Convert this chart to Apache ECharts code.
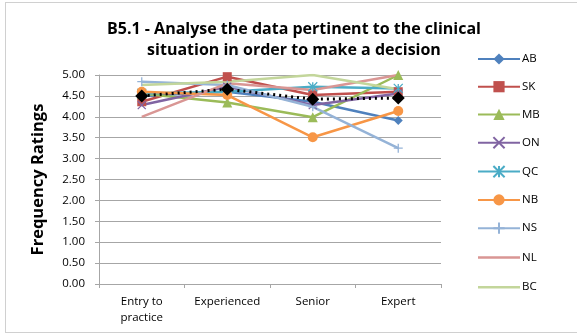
<!DOCTYPE html>
<html><head><meta charset="utf-8">
<script src="https://cdn.jsdelivr.net/npm/echarts@6/dist/echarts.min.js"></script>
<style>
html,body{margin:0;padding:0;background:#fff;}
#c{width:577px;height:334px;position:absolute;left:0;top:0;}
#b{position:absolute;left:5px;top:2px;width:580px;height:329px;border:1px solid #d0d0d0;pointer-events:none;}
</style></head>
<body><div id="c"></div><div id="b"></div>
<script>
var categories = ['Entry to\npractice', 'Experienced', 'Senior', 'Expert'];
var yTicks = [0, 0.5, 1, 1.5, 2, 2.5, 3, 3.5, 4, 4.5, 5];
var AB = [4.50, 4.60, 4.36, 3.91];
var SK = [4.36, 4.96, 4.52, 4.60];
var MB = [4.56, 4.34, 3.99, 5.00];
var ON = [4.28, 4.72, 4.28, 4.56];
var QC = [4.56, 4.60, 4.72, 4.68];
var NB = [4.60, 4.52, 3.51, 4.14];
var NS = [4.84, 4.76, 4.24, 3.25];
var NL = [4.00, 4.80, 4.64, 5.00];
var BC = [4.76, 4.84, 5.00, 4.66];
var AVG = [4.50, 4.66, 4.42, 4.45];

var defs = [
  {name:'AB', data:AB, color:'#4F81BD', symbol:'diamond', size:9},
  {name:'SK', data:SK, color:'#C0504D', symbol:'rect', size:9},
  {name:'MB', data:MB, color:'#9BBB59', symbol:'triangle', size:10},
  {name:'ON', data:ON, color:'#8064A2', symbol:'path://M0,0L10,10M10,0L0,10', size:8, stroke:true},
  {name:'QC', data:QC, color:'#4BACC6', symbol:'path://M0,0L10,10M10,0L0,10M5,0L5,10', size:9, stroke:true},
  {name:'NB', data:NB, color:'#F79646', symbol:'circle', size:10},
  {name:'NS', data:NS, color:'#95B3D7', symbol:'path://M5,0L5,10M0,5L10,5', size:9, stroke:true},
  {name:'NL', data:NL, color:'#D99694', symbol:'none', size:0},
  {name:'BC', data:BC, color:'#C3D69B', symbol:'none', size:0}
];
var series = defs.map(function(d){
  return {
    name:d.name, type:'line', data:d.data,
    symbol:d.symbol, symbolSize:d.size,
    lineStyle:{color:d.color, width:2.5},
    itemStyle: d.stroke ? {color:d.color, borderColor:d.color, borderWidth:1.3} : {color:d.color},
    emphasis:{disabled:true}, animation:false
  };
});
series.push({
  name:'Average', type:'line', data:AVG, symbol:'diamond', symbolSize:13,
  lineStyle:{color:'#000', width:3, type:[2,4]},
  itemStyle:{color:'#000'}, z:5, animation:false
});

var barIcon = 'path://M0,0L0.01,0L0,0.01ZM0,5.75L42,5.75L42,8.25L0,8.25ZM42,14L41.99,14L42,13.99Z';
var legendData = defs.map(function(d){
  return d.symbol === 'none' ? {name:d.name, icon:barIcon} : {name:d.name};
});

var chart = echarts.init(document.getElementById('c'));
chart.setOption({
  backgroundColor:'#fff',
  animation:false,
  title:{
    text:'B5.1 - Analyse the data pertinent to the clinical\nsituation in order to make a decision',
    left:289, top:14, textAlign:'center',
    textStyle:{fontFamily:'Open Sans', fontWeight:'bold', fontSize:16, color:'#000', lineHeight:21}
  },
  legend:{
    data:legendData,
    orient:'vertical', left:472, top:48,
    itemWidth:42, itemHeight:14, itemGap:15.7,
    textStyle:{fontFamily:'Open Sans', fontSize:11.5, color:'#000', padding:[0,0,0,-3]}
  },
  grid:{left:99, right:136, top:75, bottom:50},
  xAxis:{
    type:'category', data:categories, boundaryGap:true,
    axisLine:{lineStyle:{color:'#a6a6a6'}},
    axisTick:{show:true, length:4, lineStyle:{color:'#a6a6a6'}},
    axisLabel:{fontFamily:'Open Sans', fontSize:11.5, color:'#000', margin:10, lineHeight:16, interval:0}
  },
  yAxis:{
    type:'value', min:0, max:5, interval:0.5,
    name:'Frequency Ratings', nameLocation:'middle', nameGap:52, nameRotate:90,
    nameTextStyle:{fontFamily:'Open Sans', fontWeight:'bold', fontSize:16.5, color:'#000'},
    axisLine:{show:true, lineStyle:{color:'#a6a6a6'}},
    axisTick:{show:true, length:4, lineStyle:{color:'#a6a6a6'}},
    splitLine:{lineStyle:{color:'#a6a6a6'}},
    axisLabel:{fontFamily:'Open Sans', fontSize:11.5, color:'#000', margin:14,
      formatter:function(v){return yTicks.indexOf(v)>=0 ? v.toFixed(2) : '';}}
  },
  series:series
});
</script></body></html>
